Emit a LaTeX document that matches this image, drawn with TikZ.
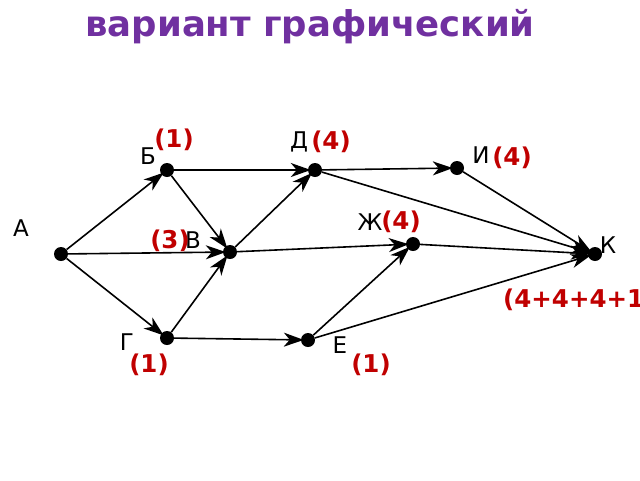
\documentclass[tikz,border=0pt]{standalone}
\usepackage{fontspec}
\setmainfont{DejaVu Sans}
\usetikzlibrary{arrows.meta}
\definecolor{titlepurple}{HTML}{7030A0}
\definecolor{countred}{HTML}{C00000}
\begin{document}
\begin{tikzpicture}
    [%
        x=1pt,y=-1pt,%
        vertex/.style={%
            circle,%
            fill=black,%
            inner sep=0pt,%
            minimum size=14pt%
        },%
        vertex name/.style={%
            font=\fontsize{23}{23}\selectfont,%
            inner sep=0pt%
        },%
        path count/.style={%
            font=\fontsize{24.5}{24.5}\selectfont\bfseries,%
            text=countred,%
            inner sep=0pt%
        },%
        edge/.style={%
            line width=1.6pt,%
            -{Stealth[length=20pt,width=14pt,inset=6pt]},%
            shorten >=-3pt%
        }%
    ]%
    \useasboundingbox (0,0) rectangle (640,480);
%
    \node[font=\fontsize{35.5}{35.5}\selectfont\bfseries,text=titlepurple] (title) at (310,27) {вариант графический};
%
    % place the vertices
    % \name vertex name
    % \x/\y vertex coordinates
    \foreach \name/\x/\y in {%
        a/61/254,%
        b/167/170,%
        v/230/252,%
        g/167/338,%
        d/315/170,%
        i/457/168,%
        zh/413/244,%
        e/308/340,%
        k/595/254%
    }{%
        \node[vertex] (\name) at (\x,\y) {};%
    } % \foreach \name/\x/\y
%
    % vertex letters
    \foreach \name/\txt/\x/\y in {%
        a/А/21/228,%
        b/Б/148/156,%
        v/В/193/240,%
        g/Г/127/342,%
        d/Д/299/142,%
        i/И/481/155,%
        zh/Ж/370/222,%
        e/Е/340/345,%
        k/К/608/245%
    }{%
        \node[vertex name] (\name-name) at (\x,\y) {\txt};%
    } % \foreach \name/\txt/\x/\y
%
    % number of paths to each vertex
    \node[path count] (b-count) at (174,140) {(1)};
    \node[path count] (d-count) at (331,142) {(4)};
    \node[path count] (i-count) at (512,158) {(4)};
    \node[path count] (zh-count) at (401,222) {(4)};
    \node[path count] (v-count) at (170,241) {(3)};
    \node[path count] (g-count) at (149,365) {(1)};
    \node[path count] (e-count) at (371,365) {(1)};
    \node[path count,anchor=west] (k-count) at (503,300) {(4+4+4+1};
%
    % the arcs of the graph
    % \from/\to vertices of each arc
    \foreach \from/\to in {%
        a/b,a/v,a/g,%
        b/d,b/v,%
        g/v,g/e,%
        v/d,v/zh,%
        e/zh,e/k,%
        d/i,d/k,%
        i/k,zh/k%
    }{%
        \draw[edge] (\from) -- (\to);%
    } % \foreach \from/\to
\end{tikzpicture}
\end{document}
